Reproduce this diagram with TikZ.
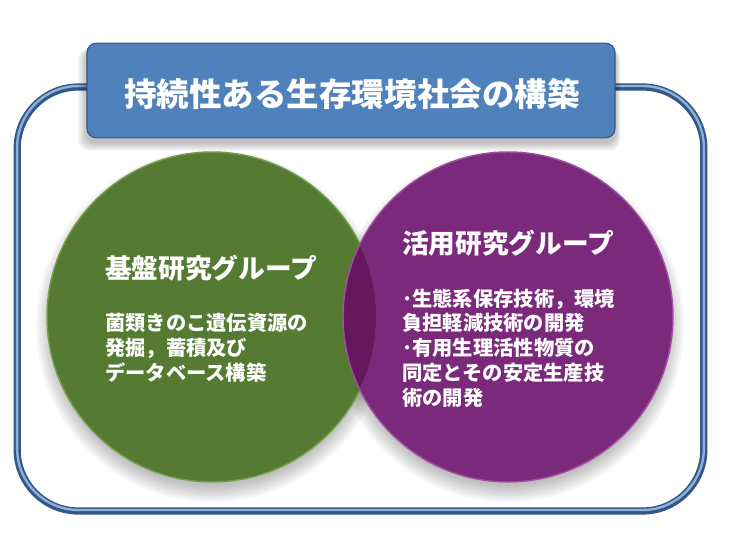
\documentclass[tikz,border=0pt]{standalone}
\usepackage{fontspec}
\newfontfamily\jpfont{Noto Sans CJK JP}
\usetikzlibrary{calc}
\definecolor{BlueFill}{RGB}{79,129,189}
\definecolor{BlueLine}{RGB}{52,88,134}
\definecolor{BlueGlow}{RGB}{140,176,218}
\definecolor{GreenFill}{RGB}{84,123,49}
\definecolor{GreenLine}{RGB}{118,158,80}
\definecolor{PurpleFill}{RGB}{123,42,123}
\definecolor{PurpleLine}{RGB}{160,80,160}
\definecolor{LensFill}{RGB}{102,24,94}

\begin{document}
\begin{tikzpicture}[
    x=0.75pt, y=-0.75pt,
    group/.style={
        circle, minimum size=247.5pt, inner sep=0pt,
        fill=#1Fill, draw=#1Line, line width=1.1pt
    },
    goalbox/.style={
        rectangle, rounded corners=7pt, minimum width=396pt,
        minimum height=71pt, fill=BlueFill, draw=BlueLine,
        line width=0.8pt
    },
    frame/.style={
        rectangle, rounded corners=46pt, minimum width=515pt,
        minimum height=318pt, draw=#1
    },
    goal/.style={font=\jpfont\bfseries\fontsize{24.4}{29}\selectfont,
        text=white, inner sep=0pt},
    heading/.style={font=\jpfont\bfseries\fontsize{20}{24}\selectfont,
        text=white, anchor=west, inner sep=0pt},
    body/.style={font=\jpfont\bfseries\fontsize{15.2}{18.6}\selectfont,
        text=white, align=left, anchor=west, inner sep=0pt},
    soft/.style={black, opacity=0.03}
]
\useasboundingbox (0,0) rectangle (733,549);

% ===================================================================
% OUTER FRAME
% ===================================================================
\node[frame=BlueLine, line width=5.4pt] (frameout) at (360.5,299) {};
\node[frame=BlueGlow, line width=1.8pt] (framein) at (360.5,298) {};

% ===================================================================
% SHADOWS
% ===================================================================
\coordinate (basicc) at (212,317);
\coordinate (appliedc) at (508,317);
\foreach \k in {1,...,9} {
    \fill[soft] ($(basicc)+(0,9)$) circle[radius=158+\k*2];
    \fill[soft] ($(appliedc)+(0,9)$) circle[radius=158+\k*2];
    \fill[soft, rounded corners=8pt]
        ($(87,49)+(-\k,0)$) rectangle ($(615,142)+(\k*0.6,\k)$);
}

% ===================================================================
% GROUPS
% ===================================================================
\node[group=Green] (basic) at (basicc) {};
\node[group=Purple] (applied) at (appliedc) {};

\begin{scope}
    \clip (basic.center) circle[radius=164];
    \fill[LensFill] (applied.center) circle[radius=164];
\end{scope}

\node[heading] (basictitle) at (105,268) {基盤研究グループ};
\node[body] (basictext) at (105,348)
    {菌類きのこ遺伝資源の\\
     発掘，蓄積及び\\
     データベース構築};

\node[heading] (appliedtitle) at (402,243) {活用研究グループ};
\node[body] (appliedtext) at (402,348)
    {･生態系保存技術，環境\\
     負担軽減技術の開発\\
     ･有用生理活性物質の\\
     同定とその安定生産技\\
     術の開発};

% ===================================================================
% GOAL
% ===================================================================
\node[goalbox] (goalbox) at (351,90.5) {};
\node[goal] (goal) at (352,94) {持続性ある生存環境社会の構築};

\end{tikzpicture}
\end{document}
